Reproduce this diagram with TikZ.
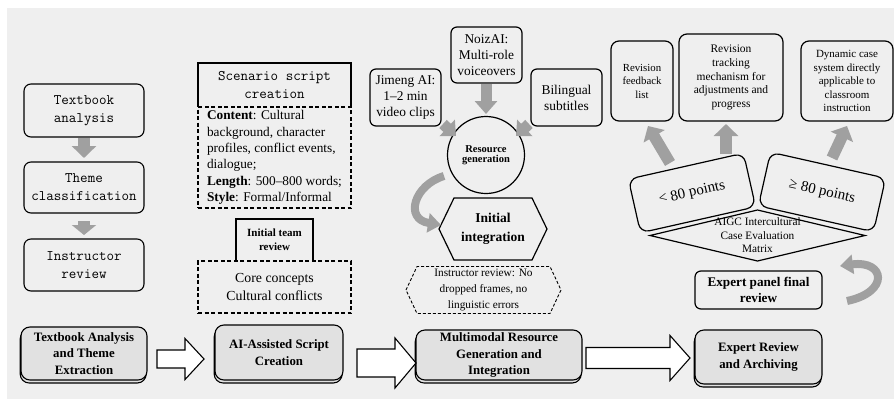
\documentclass[tikz,border=0pt]{standalone}
\usepackage{fontspec}
\setmainfont{Liberation Serif}
\usetikzlibrary{arrows.meta,calc,shadows}
\definecolor{bg}{HTML}{EFEFEF}
\definecolor{stagegray}{HTML}{E1E1E1}
\definecolor{arrowgray}{HTML}{A0A0A0}
\newcommand\fs[2]{\fontsize{#1}{#2}\selectfont}
% outlined block arrow: start, tip, shaft half-width, head half-width, head length
\newcommand\hollowarrow[5]{%
  \draw[hollow] let \p1=(#1), \p2=(#2) in
    (\x1,\y1+#3) -- (\x2-#5,\y1+#3) -- (\x2-#5,\y1+#4) -- (\x2,\y1)
    -- (\x2-#5,\y1-#4) -- (\x2-#5,\y1-#3) -- (\x1,\y1-#3) -- cycle;}
\begin{document}
\begin{tikzpicture}[x=1pt,y=-1pt,
  every node/.style={inner sep=0pt,outer sep=0pt},
  monobox/.style={draw,line width=1.1pt,rounded corners=7pt,align=center,
    minimum width=120pt,font=\ttfamily\fs{14.6}{18}},
  mmbox/.style={draw,line width=1.2pt,rounded corners=6pt,align=center,
    minimum width=71pt,font=\fs{13.4}{16}},
  smbox/.style={draw,line width=1.2pt,rounded corners=8pt,align=center},
  dashbox/.style={draw,line width=1.3pt,dash pattern=on 4pt off 2.5pt},
  tiltbox/.style={draw,line width=1.2pt,rounded corners=9pt,fill=bg,
    minimum width=118pt,minimum height=55pt,font=\fs{15}{18}},
  stagebox/.style={draw,line width=1.1pt,rounded corners=9pt,fill=stagegray,
    align=center,font=\bfseries\fs{12.8}{16.5},
    general shadow={shadow xshift=-0.8pt,shadow yshift=-3pt,
      fill=stagegray,draw=black,line width=1.1pt}},
  hollow/.style={draw,line width=1.1pt,fill=white},
  garrow/.style={draw=arrowgray,line width=11.5pt,
    -{Triangle[width=24pt,length=12pt]}},
  carrow/.style={draw=arrowgray,line width=8pt,
    -{Triangle[width=19pt,length=13pt]}}]

% canvas
\useasboundingbox (0,0) rectangle (894,399);
\fill[white] (0,0) rectangle (894,399);
\fill[bg] (7,8) rectangle (894,399);

% ---- textbook analysis column
\node[monobox,minimum height=53pt] (ta) at (84,110.5) {Textbook\\analysis};
\node[monobox,minimum height=51pt] (tc) at (84,187.5) {Theme\\classification};
\node[monobox,minimum height=52pt] (ir) at (84,265) {Instructor\\review};
\draw[garrow] ($(ta.south)+(0,1)$) -- ($(tc.north)+(0,-4)$);
\draw[draw=arrowgray,line width=11.5pt,-{Triangle[width=24pt,length=10pt]}]
  ($(tc.south)+(0,8)$) -- ($(ir.north)+(0,-4)$);

% ---- script creation column
\node[minimum width=153pt,minimum height=44pt,align=center,
  font=\ttfamily\fs{14.6}{18}] (sh) at (274.5,85) {Scenario script\\creation};
\draw[line width=1.1pt] (sh.south west) -- (sh.north west) -- (sh.north east)
  -- (sh.south east);
\node[dashbox,minimum width=153pt,minimum height=101pt,align=left,
  font=\fs{13.3}{16.4}] (sd) at (274.5,157.5)
  {\textbf{Content}: Cultural\\background, character\\profiles, conflict events,\\
   dialogue;\\\textbf{Length}: 500–800 words;\\\textbf{Style}: Formal/Informal};
\node[dashbox,minimum width=153pt,minimum height=52pt,align=center,
  font=\fs{13.8}{18}] (cc) at (274.5,287) {Core concepts\\Cultural conflicts};
\node[minimum width=77pt,minimum height=42pt,align=center,
  font=\bfseries\fs{11}{14}] (tr) at (274.5,240) {Initial team\\review};
\draw[line width=1.1pt] (tr.south west) -- (tr.north west) -- (tr.north east)
  -- (tr.south east);

% ---- multimodal column
\node[mmbox,minimum height=57pt] (jm) at (405.5,97.5) {Jimeng AI:\\1–2 min\\video clips};
\node[mmbox,minimum height=56pt] (nz) at (486.5,55) {NoizAI:\\Multi-role\\voiceovers};
\node[mmbox,minimum height=57pt] (bs) at (566.5,97.5) {Bilingual\\subtitles};
\node[circle,draw,line width=1.2pt,minimum size=77pt,align=center,
  font=\bfseries\fs{10.5}{10.5}] (rg) at (486,155) {Resource\\generation};
\node[minimum width=108pt,minimum height=62pt,align=center,
  font=\bfseries\fs{13.5}{19}] (ii) at (493,229) {Initial\\integration};
\draw[line width=1.2pt] (ii.west) -- ($(ii.north west)+(15,0)$)
  -- ($(ii.north east)+(-15,0)$) -- (ii.east) -- ($(ii.south east)+(-15,0)$)
  -- ($(ii.south west)+(15,0)$) -- cycle;
\node[minimum width=155pt,minimum height=47pt,align=center,
  font=\fs{11.3}{16}] (iv) at (483.5,290)
  {Instructor review: No\\dropped frames, no\\linguistic errors};
\draw[line width=0.9pt,dash pattern=on 3pt off 2pt] (iv.west)
  -- ($(iv.north west)+(11,0)$) -- ($(iv.north east)+(-11,0)$) -- (iv.east)
  -- ($(iv.south east)+(-11,0)$) -- ($(iv.south west)+(11,0)$) -- cycle;
\draw[draw=arrowgray,line width=11pt,-{Triangle[width=22pt,length=13pt]}]
  ($(nz.south)+(-0.5,1)$) -- ($(rg.north)+(0,-2.5)$);
\draw[draw=arrowgray,line width=11pt,-{Triangle[width=22pt,length=12pt]}]
  ($(jm.south east)+(2,-2)$) -- ($(rg.center)+(-30,-19)$);
\draw[draw=arrowgray,line width=11pt,-{Triangle[width=22pt,length=12pt]}]
  ($(bs.south west)+(-2,-2)$) -- ($(rg.center)+(30,-19)$);
\draw[carrow] ($(rg.center)+(-42,21)$) .. controls ($(rg.center)+(-72,30)$)
  and ($(ii.west)+(-35,-10)$) .. ($(ii.west)+(2,-4)$);

% ---- expert review column
\node[smbox,minimum width=62pt,minimum height=80pt,font=\fs{10.8}{13.5}] (rf)
  at (642,81) {Revision\\feedback\\list};
\node[smbox,minimum width=104pt,minimum height=87pt,font=\fs{11.5}{13.8}] (rt)
  at (731,77.5) {Revision\\tracking\\mechanism for\\adjustments and\\progress};
\node[smbox,minimum width=92pt,minimum height=80pt,font=\fs{11}{13.5}] (dc)
  at (847,81) {Dynamic case\\system directly\\applicable to\\classroom\\instruction};
\path node[minimum width=215pt,minimum height=51pt] (dm) at (757.5,235.5) {};
\draw[line width=1.2pt] (dm.west) -- (dm.north) -- (dm.east) -- (dm.south) -- cycle;
\node[tiltbox,rotate=12.7] (lt) at (692,193) {< 80 points};
\node[tiltbox,rotate=-12.7] (ge) at (822,192) {≥ 80 points};
\node[align=center,font=\fs{11.3}{13.5}] at (dm.center)
  {AIGC Intercultural\\Case Evaluation\\Matrix};
\node[smbox,rounded corners=6pt,minimum width=127pt,minimum height=38pt,
  font=\bfseries\fs{13.2}{16}] (ep) at (758.5,290) {Expert panel final\\review};
\draw[garrow] ($(lt.center)+(-22,-30)$) -- ($(rf.south)+(6,5)$);
\draw[garrow] ($(lt.center)+(34,-39)$) -- ($(rt.south)+(-5,3)$);
\draw[garrow] ($(ge.center)+(10,-34)$) -- ($(dc.south)+(0,5)$);
\draw[carrow] ($(ep.east)+(25,11)$) .. controls ($(ep.east)+(68,2)$)
  and ($(ep.east)+(63,-30)$) .. ($(ep.east)+(18,-24)$);

% ---- stage row
\node[stagebox,minimum width=126pt,minimum height=53pt] (s1) at (84,353.5)
  {Textbook Analysis\\and Theme\\Extraction};
\node[stagebox,minimum width=128pt,minimum height=55pt] (s2) at (279,352.5)
  {AI-Assisted Script\\Creation};
\node[stagebox,minimum width=166pt,minimum height=50pt] (s3) at (499,355)
  {Multimodal Resource\\Generation and\\Integration};
\node[stagebox,minimum width=127pt,minimum height=54pt] (s4) at (758.5,357)
  {Expert Review\\and Archiving};
\hollowarrow{$(s1.east)+(10,5.5)$}{$(s2.west)+(-11,0)$}{9pt}{20.5pt}{19pt}
\hollowarrow{$(s2.east)+(14,10.5)$}{$(s3.west)+(0,0)$}{14pt}{25pt}{21pt}
\hollowarrow{$(s3.east)+(4,3)$}{$(s4.west)+(-5,0)$}{10.5pt}{22.5pt}{20pt}
\end{tikzpicture}
\end{document}
